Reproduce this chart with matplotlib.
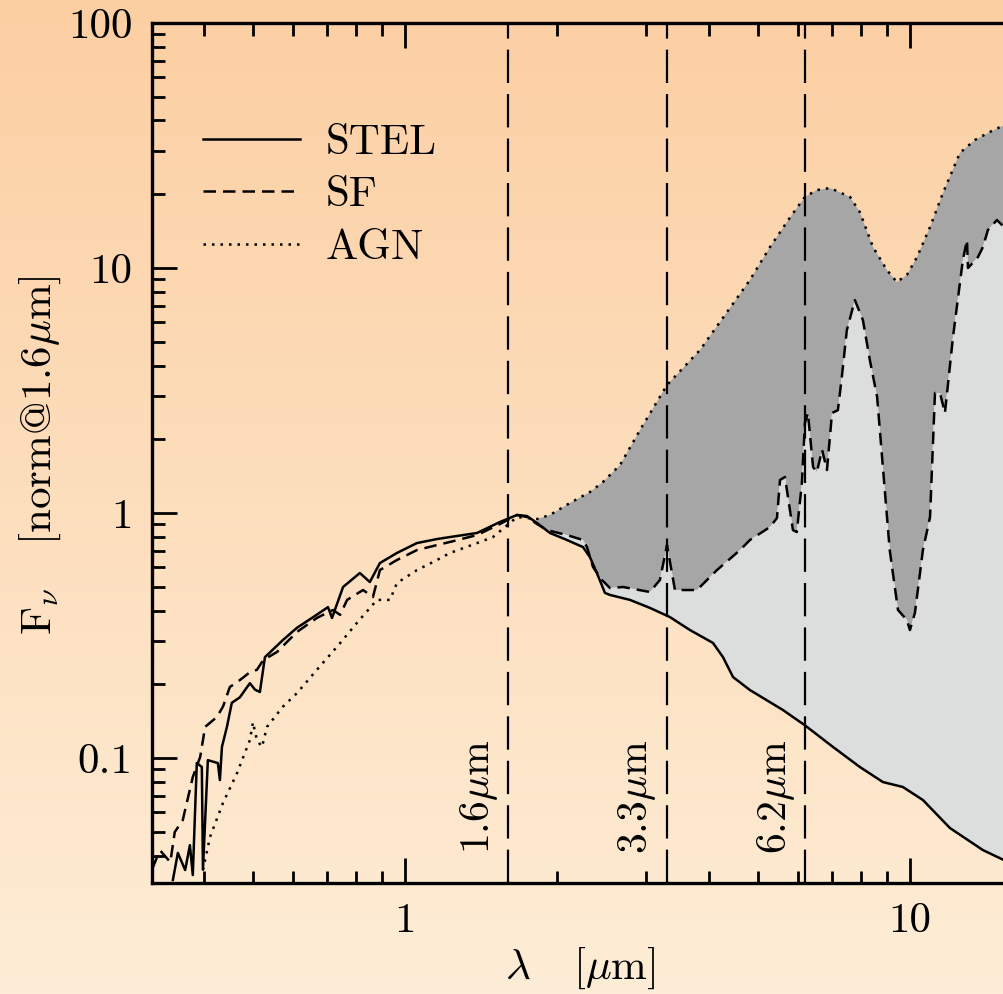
import numpy as np
import matplotlib
matplotlib.use("Agg")
import matplotlib.pyplot as plt
from matplotlib.lines import Line2D

plt.rcParams['font.family'] = ['cmr10', 'DejaVu Serif']
plt.rcParams['mathtext.fontset'] = 'cm'
plt.rcParams['axes.formatter.use_mathtext'] = True

# ---------------- data ----------------
stel_lam = [0.347, 0.355, 0.367, 0.375, 0.380, 0.387, 0.396, 0.398, 0.407, 0.426,
            0.430, 0.434, 0.444, 0.454, 0.471, 0.493, 0.505, 0.516, 0.528, 0.573,
            0.611, 0.658, 0.704, 0.717, 0.754, 0.814, 0.852, 0.892, 0.964, 1.056,
            1.157, 1.228, 1.389, 1.542, 1.667, 1.744, 1.826, 1.937, 2.093, 2.252,
            2.324, 2.399, 2.489, 2.547, 2.790, 3.055, 3.348, 3.667, 4.073, 4.264,
            4.464, 4.82, 5.605, 6.195, 7.04, 7.96, 8.84, 9.68, 10.61, 12.0,
            13.95, 15.36, 17.3]
stel_flux = [0.0318, 0.041, 0.0349, 0.0441, 0.0333, 0.0954, 0.0919, 0.035, 0.098, 0.0954,
             0.0813, 0.111, 0.134, 0.168, 0.177, 0.202, 0.190, 0.186, 0.258, 0.303,
             0.340, 0.376, 0.413, 0.373, 0.499, 0.569, 0.523, 0.625, 0.687, 0.754,
             0.783, 0.798, 0.829, 0.919, 0.982, 0.972, 0.910, 0.829, 0.776, 0.726,
             0.661, 0.569, 0.472, 0.463, 0.442, 0.410, 0.376, 0.333, 0.295, 0.258,
             0.214, 0.1895, 0.157, 0.136, 0.111, 0.0919, 0.0798, 0.0762, 0.0674, 0.0518,
             0.0421, 0.0383, 0.034]

sf_lam = [0.317, 0.327, 0.343, 0.350, 0.363, 0.380, 0.393, 0.402, 0.424, 0.436,
          0.450, 0.471, 0.493, 0.509, 0.524, 0.558, 0.611, 0.669, 0.720, 0.744,
          0.768, 0.826, 0.864, 0.892, 0.964, 1.056, 1.157, 1.228, 1.389, 1.542,
          1.667, 1.744, 1.826, 1.910, 2.093, 2.252, 2.293, 2.357, 2.455, 2.547,
          2.703, 3.055, 3.198, 3.303, 3.425, 3.786, 4.148, 4.608, 4.82, 5.283,
          5.453, 5.53, 5.656, 5.866, 5.97, 6.11, 6.195, 6.28, 6.43, 6.54,
          6.70, 6.85, 7.01, 7.20, 7.33, 7.50, 7.78, 8.07, 8.33, 8.61,
          8.84, 9.12, 9.47, 9.86, 10.0, 10.23, 10.61, 10.96, 11.21, 11.47,
          11.73, 12.17, 12.73, 12.97, 13.03, 13.64, 13.95, 14.27, 14.87, 15.36,
          17.3]
sf_flux = [0.0359, 0.0421, 0.0376, 0.0499, 0.0558, 0.0836, 0.101, 0.134, 0.147, 0.162,
           0.195, 0.208, 0.224, 0.229, 0.251, 0.271, 0.327, 0.373, 0.402, 0.384,
           0.442, 0.485, 0.454, 0.585, 0.643, 0.706, 0.740, 0.762, 0.813, 0.902,
           0.982, 0.963, 0.902, 0.852, 0.813, 0.776, 0.726, 0.602, 0.533, 0.494,
           0.499, 0.476, 0.533, 0.740, 0.485, 0.485, 0.585, 0.706, 0.776, 0.877,
           0.954, 1.364, 1.403, 0.852, 0.836, 1.326, 2.33, 2.56, 1.541, 1.47,
           1.81, 1.498, 2.56, 2.63, 3.59, 5.58, 7.40, 6.13, 4.21, 2.98,
           1.541, 0.706, 0.402, 0.366, 0.333, 0.391, 0.706, 0.963, 3.09, 3.09,
           2.56, 5.23, 10.78, 13.0, 10.0, 11.09, 12.18, 14.29, 15.7, 14.7,
           13.6]

agn_lam = [0.398, 0.411, 0.436, 0.465, 0.493, 0.500, 0.509, 0.521, 0.533, 0.573,
           0.611, 0.669, 0.733, 0.803, 0.880, 0.934, 0.964, 1.056, 1.157, 1.228,
           1.389, 1.494, 1.667, 1.826, 1.937, 2.122, 2.324, 2.466, 2.666, 2.92,
           3.303, 3.84, 4.82, 5.283, 5.79, 6.195, 6.54, 6.95, 7.61, 7.96,
           8.45, 9.0, 9.42, 9.86, 10.33, 10.96, 11.62, 12.56, 13.45, 14.39,
           15.36, 17.3]
agn_flux = [0.0349, 0.0476, 0.0655, 0.0868, 0.1184, 0.140, 0.1184, 0.111, 0.134, 0.162,
            0.184, 0.229, 0.284, 0.356, 0.442, 0.442, 0.518, 0.585, 0.643, 0.687,
            0.754, 0.798, 0.963, 0.945, 0.982, 1.099, 1.218, 1.338, 1.57, 2.18,
            3.33, 4.63, 8.93, 12.18, 16.1, 19.5, 20.8, 21.2, 19.5, 16.9,
            12.18, 9.82, 8.77, 9.36, 11.09, 14.7, 20.2, 29.5, 33.3, 35.9,
            38.3, 41.0]

feature_lam = [1.6, 3.3, 6.2]
feature_labels = [r'1.6$\mu$m', r'3.3$\mu$m', r'6.2$\mu$m']
legend_labels = ['STEL', 'SF', 'AGN']

xlim = (0.3155, 17.29)
ylim = (0.0309, 100.0)

# ---------------- figure ----------------
W, H = 1004, 994
fig = plt.figure(figsize=(W / 100, H / 100), dpi=100)

# background gradient
bg = fig.add_axes([0, 0, 1, 1], zorder=-10)
top = np.array([252, 207, 163]) / 255.0
bot = np.array([254, 237, 214]) / 255.0
t = np.linspace(0, 1, 256)[:, None]
grad = (top[None, :] * (1 - t) + bot[None, :] * t)[:, None, :]
bg.imshow(grad, aspect='auto', extent=[0, 1, 0, 1], origin='upper')
bg.axis('off')

left_px, right_px, top_px, bot_px = 152, 1030, 23, 883
ax = fig.add_axes([left_px / W, 1 - bot_px / H, (right_px - left_px) / W, (bot_px - top_px) / H])
ax.set_facecolor('none')
ax.set_xscale('log')
ax.set_yscale('log')
ax.set_xlim(*xlim)
ax.set_ylim(*ylim)

sl, sfx, ag = np.array(stel_lam), np.array(sf_lam), np.array(agn_lam)
sfl, sff, agf = np.array(stel_flux), np.array(sf_flux), np.array(agn_flux)

cut = 1.75
m_st, m_sf, m_ag = sl >= cut, sfx >= cut, ag >= cut
# dark grey: between SF and AGN
ax.fill(np.concatenate([ag[m_ag], sfx[m_sf][::-1]]),
        np.concatenate([agf[m_ag], sff[m_sf][::-1]]),
        color='#a6a6a6', lw=0, zorder=1)
# light grey: between STEL and SF
ax.fill(np.concatenate([sfx[m_sf], sl[m_st][::-1]]),
        np.concatenate([sff[m_sf], sfl[m_st][::-1]]),
        color='#dcdddd', lw=0, zorder=1)

lw = 1.8
ax.plot(sl, sfl, color='black', lw=lw, zorder=3)
ax.plot(sfx, sff, color='black', lw=lw, dashes=(5, 2.8), zorder=3)
ax.plot(ag, agf, color='black', lw=lw, dashes=(1, 2.4), zorder=3)

for lam, lab in zip(feature_lam, feature_labels):
    ax.axvline(lam, color='black', lw=1.6, dashes=(15, 5), zorder=4)
    ax.annotate(lab, xy=(lam, 0.034), xycoords=('data', 'axes fraction'),
                xytext=(-6, 0), textcoords='offset points',
                rotation=90, ha='right', va='bottom', fontsize=30, zorder=5)

# ticks
for s in ax.spines.values():
    s.set_linewidth(2.4)
ax.tick_params(which='both', direction='in', top=True, right=True, width=2.0)
ax.tick_params(which='major', length=18, labelsize=31, pad=14)
ax.tick_params(which='minor', length=9)
ax.xaxis.set_major_locator(matplotlib.ticker.LogLocator(base=10, numticks=10))
ax.xaxis.set_minor_locator(matplotlib.ticker.LogLocator(base=10, subs=np.arange(2, 10), numticks=20))
ax.yaxis.set_minor_locator(matplotlib.ticker.LogLocator(base=10, subs=np.arange(2, 10), numticks=20))
fmt = matplotlib.ticker.FuncFormatter(lambda v, p: ('%g' % v))
ax.xaxis.set_major_formatter(fmt)
ax.yaxis.set_major_formatter(fmt)
ax.xaxis.set_minor_formatter(matplotlib.ticker.NullFormatter())
ax.yaxis.set_minor_formatter(matplotlib.ticker.NullFormatter())

fig.text(580 / W, 1 - 968 / H, r'$\lambda$   [$\mu$m]', ha='center', va='center', fontsize=31)
fig.text(40 / W, 1 - 455 / H, r'F$_\nu$   [norm@1.6$\mu$m]', ha='center', va='center',
         rotation=90, fontsize=31)

handles = [Line2D([], [], color='black', lw=lw),
           Line2D([], [], color='black', lw=lw, dashes=(5, 2.8)),
           Line2D([], [], color='black', lw=lw, dashes=(1, 2.4))]
ax.legend(handles, legend_labels, loc='upper left', bbox_to_anchor=(203 / W, 1 - 124 / H),
          bbox_transform=fig.transFigure, frameon=False, fontsize=31,
          handlelength=2.25, handletextpad=0.6, labelspacing=0.33, borderpad=0, borderaxespad=0)

fig.savefig('out.png', dpi=100)
